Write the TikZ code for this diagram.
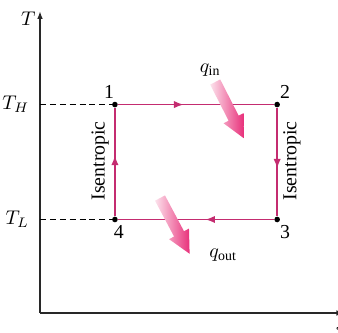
\documentclass[tikz,border=0pt]{standalone}
\usepackage{fontspec}
\setmainfont{Liberation Serif}
\usepackage{tikz}
\usetikzlibrary{arrows.meta,positioning,decorations.markings}
\definecolor{CycleRose}{RGB}{196,44,112}
\definecolor{HeatPink}{RGB}{232,48,122}
\definecolor{HeatPale}{RGB}{252,226,236}
\definecolor{AxisGray}{RGB}{40,40,40}
\tikzset{
  statedot/.style={circle,fill=black,inner sep=0pt,minimum size=1mm},
  cycleline/.style={CycleRose,line width=0.8pt},
  midarrow/.style={postaction={decorate},decoration={markings,
    mark=at position #1 with {\arrow{Latex[length=1.7mm,width=1.3mm]}}}},
  guide/.style={dashed,thin,dash pattern=on 3pt off 2pt}
}
\newcommand{\heatarrow}[3]{%
  \shade[left color=HeatPale,right color=HeatPink,shift={(#1,#2)},rotate=#3]
    (0,-0.1)--(0.72,-0.1)--(0.72,-0.2)--(1.12,0)--(0.72,0.2)--(0.72,0.1)--(0,0.1)--cycle;}

\begin{document}
\begin{tikzpicture}
  \useasboundingbox (-0.71,-0.355) rectangle (5.29,5.556);
  % axes
  \coordinate (O) at (0,0);
  \coordinate (ytop) at (0,5.36);
  \coordinate (xend) at (5.4,0);
  \draw[AxisGray,line width=0.7pt,-{Latex[length=1.4mm,width=1mm]}] (O)--(ytop);
  \draw[AxisGray,line width=0.7pt,-{Latex[length=1.4mm,width=1mm]}] (O)--(xend);
  \node (Tlab) at (-0.21,5.22) {$T$};
  \node (slab) at (5.33,-0.24) {$s$};
  % state points
  \node[statedot] (p1) at (1.33,3.70) {};
  \node[statedot] (p2) at (4.21,3.70) {};
  \node[statedot] (p3) at (4.21,1.66) {};
  \node[statedot] (p4) at (1.33,1.66) {};
  \node[above=-2pt of p1,xshift=-3pt] (n1) {1};
  \node[above=-2pt of p2,xshift=4pt] (n2) {2};
  \node[below=-2pt of p3,xshift=4pt] (n3) {3};
  \node[below=-2pt of p4,xshift=2pt] (n4) {4};
  % temperature levels
  \coordinate (yH) at (0,3.70);
  \coordinate (yL) at (0,1.66);
  \draw[guide] (yH)--(p1);
  \draw[guide] (yL)--(p4);
  \node[left=2pt of yH] (TH) {$T_H$};
  \node[left=2pt of yL] (TL) {$T_L$};
  % cycle
  \draw[cycleline,midarrow=0.42] (p1)--(p2);
  \draw[cycleline,midarrow=0.56] (p2)--(p3);
  \draw[cycleline,midarrow=0.44] (p3)--(p4);
  \draw[cycleline,midarrow=0.56] (p4)--(p1);
  \node[rotate=90] (isL) at (1.07,2.70) {Isentropic};
  \node[rotate=90] (isR) at (4.47,2.70) {Isentropic};
  % heat in and out
  \heatarrow{3.11}{4.10}{-63}
  \heatarrow{2.13}{2.04}{-62}
  \node (qin) at (3.02,4.31) {$q_{\mathrm{in}}$};
  \node (qout) at (3.25,1.03) {$q_{\mathrm{out}}$};
\end{tikzpicture}
\end{document}
